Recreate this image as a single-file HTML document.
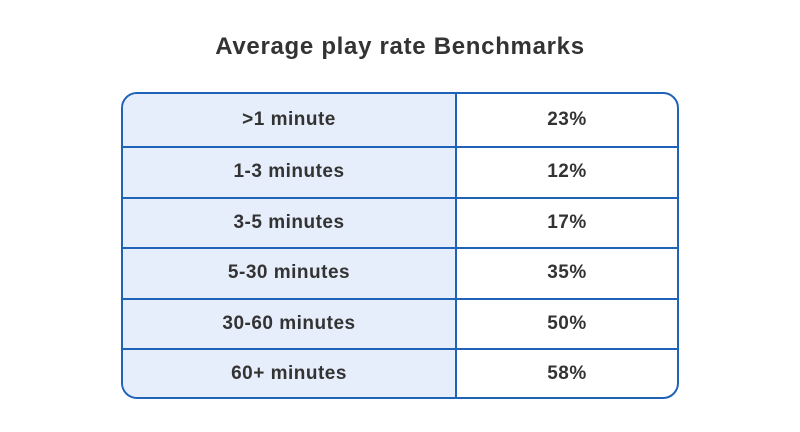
<!DOCTYPE html>
<html><head><style>
body{margin:0;width:800px;height:432px;background:#fff;font-family:"Liberation Sans",sans-serif;position:relative;overflow:hidden}
.t{position:absolute;top:33px;left:0;width:800px;text-align:center;font-size:24px;font-weight:bold;color:#333;letter-spacing:0.7px}
.tb{position:absolute;left:121px;top:92px;width:554px;height:303px;border:2px solid #1f63b8;border-radius:16px;overflow:hidden;background:#fff}
.l{position:absolute;left:0;top:0;width:332px;height:303px;background:#e6edfb}
.v{position:absolute;left:332px;top:0;width:2px;height:303px;background:#1f63b8}
.h{position:absolute;left:0;width:554px;height:2px;background:#1f63b8}
.c{position:absolute;height:50px;line-height:52px;text-align:center;font-size:19px;font-weight:bold;color:#333;letter-spacing:0.5px}
</style></head><body>
<div class="t">Average play rate Benchmarks</div>
<div class="tb">
<div class="l"></div><div class="v"></div>
<div class="h" style="top:52px"></div>
<div class="h" style="top:103px"></div>
<div class="h" style="top:153px"></div>
<div class="h" style="top:204px"></div>
<div class="h" style="top:254px"></div>
<div class="c" style="left:0;width:332px;top:0">&gt;1 minute</div><div class="c" style="left:334px;width:220px;top:0">23%</div>
<div class="c" style="left:0;width:332px;top:52px">1-3 minutes</div><div class="c" style="left:334px;width:220px;top:52px">12%</div>
<div class="c" style="left:0;width:332px;top:103px">3-5 minutes</div><div class="c" style="left:334px;width:220px;top:103px">17%</div>
<div class="c" style="left:0;width:332px;top:153px">5-30 minutes</div><div class="c" style="left:334px;width:220px;top:153px">35%</div>
<div class="c" style="left:0;width:332px;top:204px">30-60 minutes</div><div class="c" style="left:334px;width:220px;top:204px">50%</div>
<div class="c" style="left:0;width:332px;top:254px">60+ minutes</div><div class="c" style="left:334px;width:220px;top:254px">58%</div>
</div>
</body></html>
